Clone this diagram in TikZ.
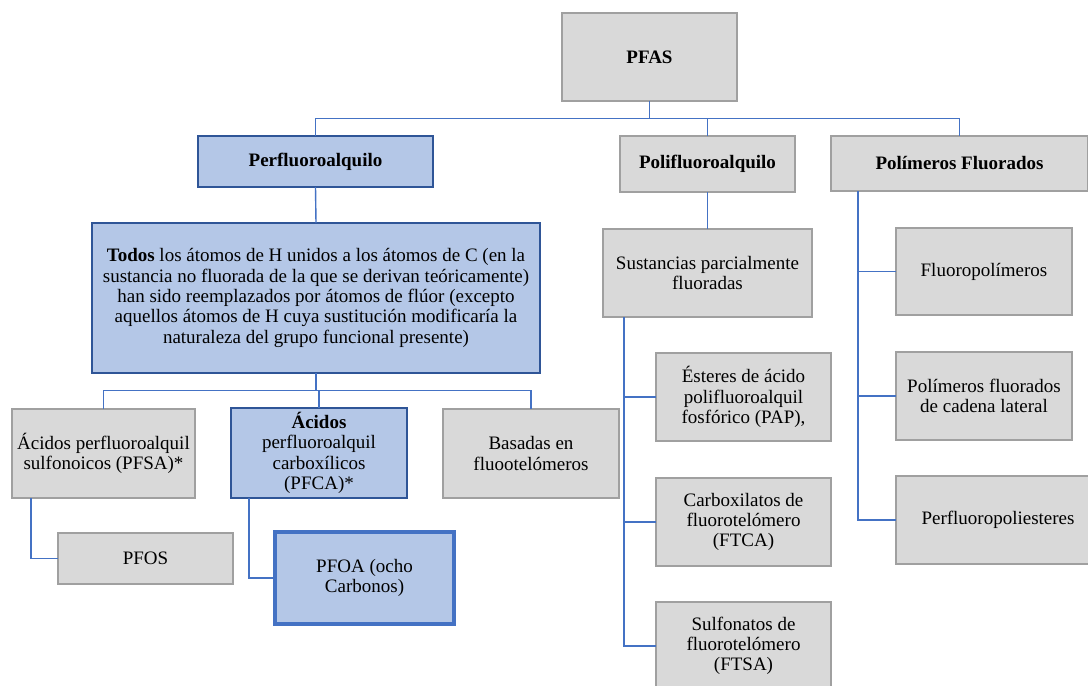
\documentclass[tikz,border=0pt]{standalone}
\usepackage{fontspec}
\setmainfont{Liberation Serif}
\usepackage{tikz}
\usetikzlibrary{calc}
\definecolor{boxgray}{HTML}{D9D9D9}
\definecolor{linegray}{HTML}{A0A0A0}
\definecolor{boxblue}{HTML}{B4C7E7}
\definecolor{lineblue}{HTML}{2F5597}
\definecolor{linkblue}{HTML}{4472C4}

\begin{document}
\begin{tikzpicture}[
    x=1pt, y=-1pt,
    every node/.style={font=\fontsize{19}{20.3}\selectfont, align=center,
      inner sep=0pt, outer sep=0pt},
    gray box/.style={draw=linegray, fill=boxgray, line width=1.2pt},
    blue box/.style={draw=lineblue, fill=boxblue, line width=1.5pt},
    main box/.style={draw=linkblue, fill=boxblue, line width=3.5pt},
    link/.style={draw=linkblue, line width=1.4pt}
    ]
    \useasboundingbox (0,0) rectangle (1088,686);
    \clip (0,0) rectangle (1088,686);

    % top level
    \node[gray box, minimum width=175, minimum height=88] (pfas) at (649.5,57) {\textbf{PFAS}};
    \node[blue box, minimum width=235, minimum height=51] (perfluoro) at (315.5,161.5) {\textbf{Perfluoroalquilo}};
    \node[gray box, minimum width=175, minimum height=56] (polifluoro) at (707.5,164) {\textbf{Polifluoroalquilo}};
    \node[gray box, minimum width=257, minimum height=55] (polimeros) at (959.5,163.5) {\textbf{Polímeros Fluorados}};

    % perfluoroalquilo branch
    \node[blue box, minimum width=448, minimum height=150] (todos) at (316,298)
      {\textbf{Todos} los átomos de H unidos a los átomos de C (en la\\
       sustancia no fluorada de la que se derivan teóricamente)\\
       han sido reemplazados por átomos de flúor (excepto\\
       aquellos átomos de H cuya sustitución modificaría la\\
       naturaleza del grupo funcional presente)};
    \node[gray box, minimum width=183, minimum height=89] (pfsa) at (103.5,453.5)
      {Ácidos perfluoroalquil\\ sulfonoicos (PFSA)*};
    \node[blue box, minimum width=176, minimum height=90] (pfca) at (319,453)
      {\textbf{Ácidos}\\ perfluoroalquil\\ carboxílicos\\ (PFCA)*};
    \node[gray box, minimum width=176, minimum height=89] (basadas) at (531,453.5)
      {Basadas en\\ fluootelómeros};
    \node[gray box, minimum width=175, minimum height=51] (pfos) at (145.5,558.5) {PFOS};
    \node[main box, minimum width=179, minimum height=92] (pfoa) at (364.5,578)
      {PFOA (ocho\\ Carbonos)};

    % polifluoroalquilo branch
    \node[gray box, minimum width=209, minimum height=88] (sustancias) at (707.5,273)
      {Sustancias parcialmente\\ fluoradas};
    \node[gray box, minimum width=175, minimum height=88] (esteres) at (743.5,397)
      {Ésteres de ácido\\ polifluoroalquil\\ fosfórico (PAP),};
    \node[gray box, minimum width=175, minimum height=88] (ftca) at (743.5,522)
      {Carboxilatos de\\ fluorotelómero\\ (FTCA)};
    \node[gray box, minimum width=175, minimum height=88] (ftsa) at (743.5,646)
      {Sulfonatos de\\ fluorotelómero\\ (FTSA)};

    % polimeros branch
    \node[gray box, minimum width=176, minimum height=87] (fluoropol) at (984,271.5) {Fluoropolímeros};
    \node[gray box, minimum width=176, minimum height=88] (cadena) at (984,396)
      {Polímeros fluorados\\ de cadena lateral};
    \node[gray box, minimum width=204, minimum height=88] (perfluoropoli) at (998,520) {Perfluoropoliesteres};

    % connectors
    \coordinate (top bus) at ($(pfas.south)!.5!(pfas.south |- perfluoro.north)$);
    \draw[link] (pfas.south) -- (top bus);
    \draw[link] (perfluoro.north) |- (top bus) -| (polimeros.north);
    \draw[link] (polifluoro.north) -- (polifluoro.north |- top bus);
    \draw[link] (perfluoro.south) -- (todos.north);

    \coordinate (mid bus) at ($(todos.south)!.5!(todos.south |- pfca.north)$);
    \draw[link] (todos.south) -- (mid bus);
    \draw[link] (pfsa.north) |- (mid bus) -| (basadas.north);
    \draw[link] (pfca.north) -- (pfca.north |- mid bus);
    \draw[link] ($(pfsa.south west)+(19,0)$) |- (pfos.west);
    \draw[link] ($(pfca.south west)+(18,0)$) |- (pfoa.west);

    \draw[link] (polifluoro.south) -- (sustancias.north);
    \foreach \n in {esteres, ftca, ftsa}
      \draw[link] ($(sustancias.south west)+(21,0)$) |- (\n.west);
    \foreach \n in {fluoropol, cadena, perfluoropoli}
      \draw[link] ($(polimeros.south west)+(27,0)$) |- (\n.west);
\end{tikzpicture}
\end{document}
